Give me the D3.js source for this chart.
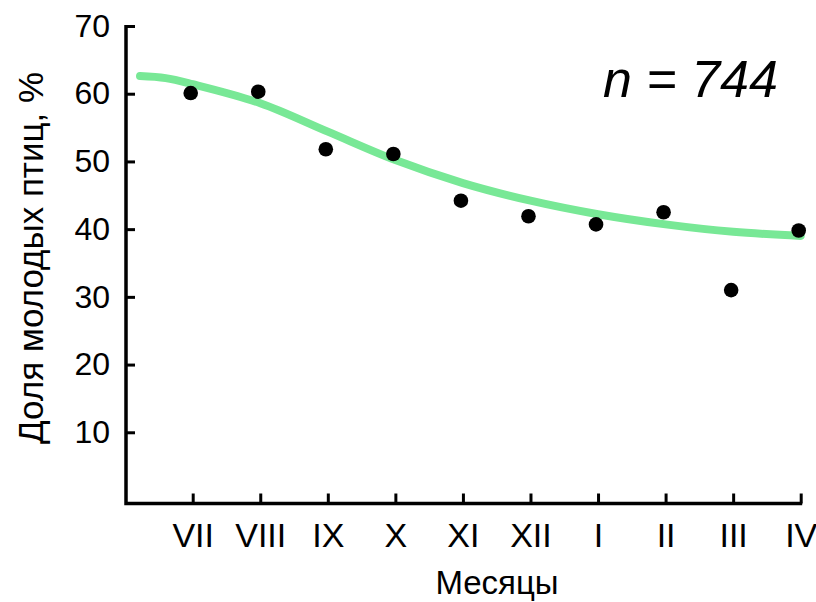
<!DOCTYPE html>
<html>
<head>
<meta charset="utf-8">
<script src="https://cdn.jsdelivr.net/npm/d3@7"></script>
<style>
  body { margin: 0; background: #fff; }
  text { font-family: "Liberation Sans", Arial, sans-serif; fill: #000; }
</style>
</head>
<body>
<div id="chart"></div>
<script>
// months on the x axis
var months = ["VII", "VIII", "IX", "X", "XI", "XII", "I", "II", "III", "IV"];
// share of young birds, %
var share = [60.1, 60.3, 51.8, 51.1, 44.2, 41.9, 40.7, 42.5, 31.0, 39.8];
// fitted trend line (month index, value)
var trendIdx = [-0.78, -0.4, 0, 1, 2, 3, 4, 5, 6, 7, 8, 9];
var trendVal = [62.6, 62.3, 61.4, 58.6, 54.4, 50.2, 46.8, 44.2, 42.2, 40.7, 39.6, 39.0];
var yTicks = [10, 20, 30, 40, 50, 60, 70];

var W = 816, H = 602;
var axisX = 126, axisY = 503.5;

var svg = d3.select("#chart").append("svg")
  .attr("width", W)
  .attr("height", H);

//////// scales ////////
var x = d3.scalePoint()
  .domain(months)
  .range([192.7, 800.7]);

var xi = d3.scaleLinear()
  .domain([0, months.length - 1])
  .range([192.7, 800.7]);

var y = d3.scaleLinear()
  .domain([0, 70])
  .range([500, 26]);

//////// axes ////////
var yAxis = svg.append("g")
  .attr("transform", "translate(" + axisX + ",0)")
  .call(d3.axisLeft(y).tickValues(yTicks).tickSize(-9).tickPadding(16));
yAxis.select(".domain").remove();
yAxis.selectAll(".tick line").attr("stroke", "#000").attr("stroke-width", 3);
yAxis.selectAll(".tick text")
  .style("font-size", "32px")
  .attr("font-family", null);

var xAxis = svg.append("g")
  .attr("transform", "translate(0," + axisY + ")")
  .call(d3.axisBottom(x).tickSize(-10).tickPadding(19));
xAxis.select(".domain").remove();
xAxis.selectAll(".tick line").attr("stroke", "#000").attr("stroke-width", 3);
xAxis.selectAll(".tick text")
  .style("font-size", "34px")
  .attr("font-family", null);

// axis lines
svg.append("path")
  .attr("d", "M" + axisX + "," + (y(70) - 1) + "V" + axisY + "H" + (x("IV") + 1.5))
  .attr("fill", "none")
  .attr("stroke", "#000")
  .attr("stroke-width", 3.5);

//////// trend line ////////
var trend = trendIdx.map(function(d, i) { return [d, trendVal[i]]; });
var line = d3.line()
  .x(function(d) { return xi(d[0]); })
  .y(function(d) { return y(d[1]); })
  .curve(d3.curveCatmullRom);

svg.append("path")
  .datum(trend)
  .attr("d", line)
  .attr("fill", "none")
  .attr("stroke", "#78e896")
  .attr("stroke-width", 8)
  .attr("stroke-linecap", "round");

//////// points ////////
svg.selectAll("circle.pt")
  .data(share)
  .enter().append("circle")
  .attr("class", "pt")
  .attr("cx", function(d, i) { return x(months[i]) - 2; })
  .attr("cy", function(d) { return y(d); })
  .attr("r", 7.3)
  .attr("fill", "#000");

//////// labels ////////
svg.append("text")
  .attr("transform", "translate(43,258) rotate(-90)")
  .attr("text-anchor", "middle")
  .style("font-size", "35px")
  .text("Доля молодых птиц, %");

svg.append("text")
  .attr("x", 497)
  .attr("y", 594)
  .attr("text-anchor", "middle")
  .style("font-size", "33px")
  .text("Месяцы");

svg.append("text")
  .attr("x", 603)
  .attr("y", 97)
  .style("font-size", "52px")
  .style("font-style", "italic")
  .text("n = 744");
</script>
</body>
</html>
